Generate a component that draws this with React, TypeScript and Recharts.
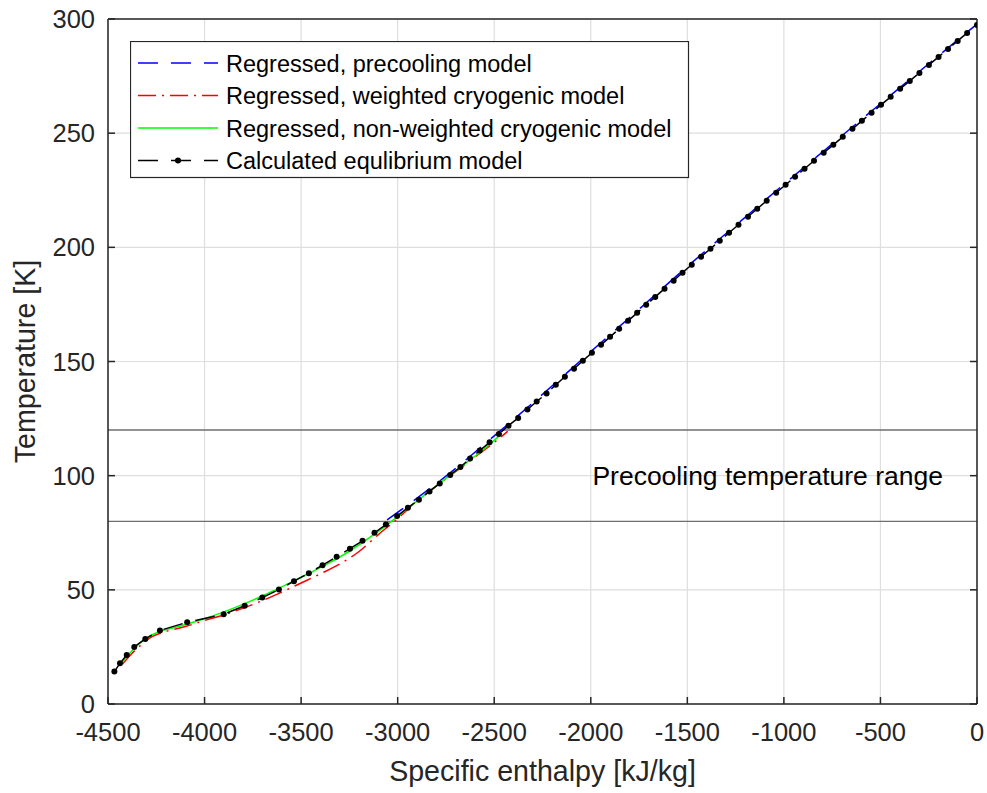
import {
  CartesianGrid,
  Legend,
  Line,
  LineChart,
  ReferenceArea,
  ReferenceLine,
  XAxis,
  YAxis,
} from "recharts"

// calculated equilibrium model (dots)
const eqH = [
  -4467, -4438, -4403, -4364, -4307, -4231, -4090, -3901, -3792, -3701, -3615, -3537, -3460,
  -3389, -3316, -3247, -3182, -3120, -3061, -3003, -2947, -2890, -2835, -2782, -2728, -2675,
  -2625, -2575, -2524, -2476, -2426, -2376, -2328, -2280, -2229, -2181, -2134, -2087, -2041,
  -1994, -1947, -1900, -1853, -1807, -1760, -1713, -1666, -1618, -1571, -1525, -1477, -1429,
  -1380, -1332, -1284, -1235, -1186, -1138, -1089, -1040, -991, -942, -893, -844, -794, -744,
  -695, -645, -596, -546, -497, -447, -398, -348, -298, -249, -199, -150, -100, -51, 0,
]
const eqT = [
  14.2, 17.8, 21.5, 25.0, 28.5, 32.2, 35.8, 39.3, 43.0, 46.6, 50.1, 53.8, 57.3, 60.8, 64.5,
  68.0, 71.5, 75.0, 78.6, 82.3, 86.0, 89.5, 93.1, 96.6, 100.3, 103.8, 107.5, 111.0, 114.6,
  118.3, 121.9, 125.3, 129.0, 132.5, 136.0, 139.8, 143.3, 146.8, 150.3, 153.8, 157.3, 160.8,
  164.3, 167.8, 171.3, 174.8, 178.3, 181.9, 185.4, 188.9, 192.4, 195.9, 199.4, 202.9, 206.4,
  209.9, 213.4, 216.9, 220.4, 223.9, 227.4, 230.9, 234.4, 237.9, 241.4, 244.9, 248.4, 251.9,
  255.4, 258.9, 262.4, 265.9, 269.4, 272.9, 276.4, 279.9, 283.4, 286.9, 290.4, 293.9, 297.4,
]

// regressed, precooling model
const precoolH = [-3055, -2750, -2500, -2250, -2000, -1750, -1500, -1250, -1000, -750, -500, -250, 0]
const precoolT = [80.6, 99.8, 117.4, 135.6, 154.3, 172.9, 191.6, 209.6, 227.6, 245.3, 262.9, 280.4, 297.8]

// regressed, weighted cryogenic model
const weightedH = [
  -4425, -4380, -4330, -4270, -4200, -4100, -4000, -3900, -3800, -3700, -3600, -3500, -3400,
  -3300, -3200, -3100, -3000, -2900, -2800, -2700, -2600, -2500, -2430,
]
const weightedT = [
  17.5, 21.8, 25.8, 29.6, 31.8, 33.9, 36.6, 39.0, 42.0, 45.3, 49.0, 53.0, 57.0, 61.3, 66.8,
  74.2, 81.2, 89.0, 95.5, 101.8, 108.2, 114.6, 119.4,
]

// regressed, non-weighted cryogenic model
const nonWeightedH = [
  -4440, -4400, -4350, -4290, -4230, -4150, -4050, -3950, -3850, -3750, -3650, -3550, -3450,
  -3350, -3250, -3150, -3050, -2950, -2850, -2750, -2650, -2550, -2460,
]
const nonWeightedT = [
  17.0, 21.0, 25.5, 29.5, 31.8, 33.6, 36.0, 38.8, 42.0, 45.5, 49.3, 53.4, 57.6, 62.0, 66.9,
  72.6, 78.8, 85.5, 92.2, 98.8, 105.3, 111.8, 118.5,
]

const xTicks = [-4500, -4000, -3500, -3000, -2500, -2000, -1500, -1000, -500, 0]
const yTicks = [0, 50, 100, 150, 200, 250, 300]

const toPoints = (hs: number[], ts: number[]) => hs.map((h, i) => ({ h, T: ts[i] }))

const eqData = toPoints(eqH, eqT)
const precoolData = toPoints(precoolH, precoolT)
const weightedData = toPoints(weightedH, weightedT)
const nonWeightedData = toPoints(nonWeightedH, nonWeightedT)

const FONT = '"Liberation Sans", Arial, sans-serif'
const AXIS = "#262626"

const legendRows = [
  { name: "Regressed, precooling model", color: "#0000ff", dash: "20 13", dot: false },
  { name: "Regressed, weighted cryogenic model", color: "#ff0000", dash: "18 6 2 6", dot: false },
  { name: "Regressed, non-weighted cryogenic model", color: "#00ff00", dash: undefined, dot: false },
  { name: "Calculated equlibrium model", color: "#000000", dash: "20 13", dot: true },
]

function LegendBox() {
  return (
    <svg width={560} height={138} style={{ display: "block", fontFamily: FONT }}>
      <rect x={0.5} y={0.5} width={558} height={136} fill="#fff" stroke={AXIS} strokeWidth={1.2} />
      {legendRows.map((r, i) => {
        const cy = 22 + i * 32.5
        return (
          <g key={r.name}>
            <line x1={8} x2={88} y1={cy} y2={cy} stroke={r.color} strokeWidth={1.5} strokeDasharray={r.dash} />
            {r.dot && <circle cx={48} cy={cy} r={3} fill="#000" />}
            <text x={96} y={cy + 8.5} fontSize={23.5} fill="#000">
              {r.name}
            </text>
          </g>
        )
      })}
    </svg>
  )
}

export default function App() {
  return (
    <div style={{ position: "absolute", left: 0, top: 0, width: 987, height: 793, background: "#fff", fontFamily: FONT }}>
      <LineChart width={987} height={793} margin={{ top: 18, right: 9, left: 0, bottom: 0 }}>
        <CartesianGrid stroke="#dedede" strokeWidth={1.2} />
        <XAxis
          dataKey="h"
          type="number"
          domain={[-4500, 0]}
          ticks={xTicks}
          allowDataOverflow
          height={89}
          stroke={AXIS}
          strokeWidth={1.5}
          tickSize={-7}
          tickMargin={26}
          tick={{ fill: AXIS, fontSize: 25.5, fontFamily: FONT }}
          label={{ value: "Specific enthalpy [kJ/kg]", position: "insideBottom", offset: 12, fill: AXIS, fontSize: 28.6, fontFamily: FONT }}
        />
        <XAxis
          xAxisId="top"
          orientation="top"
          type="number"
          domain={[-4500, 0]}
          ticks={xTicks}
          allowDataOverflow
          height={1}
          stroke={AXIS}
          strokeWidth={1.5}
          tickSize={-7}
          tickFormatter={() => ""}
        />
        <YAxis
          type="number"
          domain={[0, 300]}
          ticks={yTicks}
          allowDataOverflow
          width={108}
          stroke={AXIS}
          strokeWidth={1.5}
          tickSize={-7}
          tickMargin={20}
          tick={{ fill: AXIS, fontSize: 25.5, fontFamily: FONT }}
          label={{ value: "Temperature [K]", angle: -90, position: "insideLeft", offset: 25, textAnchor: "middle", style: { textAnchor: "middle" }, fill: AXIS, fontSize: 28.6, fontFamily: FONT }}
        />
        <YAxis
          yAxisId="right"
          orientation="right"
          type="number"
          domain={[0, 300]}
          ticks={yTicks}
          allowDataOverflow
          width={1}
          stroke={AXIS}
          strokeWidth={1.5}
          tickSize={-7}
          tickFormatter={() => ""}
        />
        <ReferenceArea
          y1={80}
          y2={120}
          fill="#fff"
          fillOpacity={0}
          stroke="none"
          label={{ value: "Precooling temperature range", position: "insideRight", offset: 34, fill: "#000", fontSize: 26.5, fontFamily: FONT }}
        />
        <ReferenceLine y={80} stroke="#6e6e6e" strokeWidth={1.3} />
        <ReferenceLine y={120} stroke="#6e6e6e" strokeWidth={1.3} />
        <Line data={precoolData} dataKey="T" type="monotone" stroke="#0000ff" strokeWidth={1.5} strokeDasharray="20 13" dot={false} isAnimationActive={false} />
        <Line data={weightedData} dataKey="T" type="monotone" stroke="#ff0000" strokeWidth={1.5} strokeDasharray="18 6 2 6" dot={false} isAnimationActive={false} />
        <Line data={nonWeightedData} dataKey="T" type="monotone" stroke="#00ff00" strokeWidth={1.5} dot={false} isAnimationActive={false} />
        <Line
          data={eqData}
          dataKey="T"
          type="linear"
          stroke="#000"
          strokeWidth={1.5}
          strokeDasharray="20 13"
          dot={{ r: 3, fill: "#000", stroke: "#000", strokeWidth: 0 }}
          isAnimationActive={false}
        />
        <Legend
          layout="vertical"
          align="center"
          verticalAlign="middle"
          content={() => <LegendBox />}
          wrapperStyle={{ position: "absolute", left: 130, top: 41, width: 560, height: 138 }}
        />
      </LineChart>
    </div>
  )
}
